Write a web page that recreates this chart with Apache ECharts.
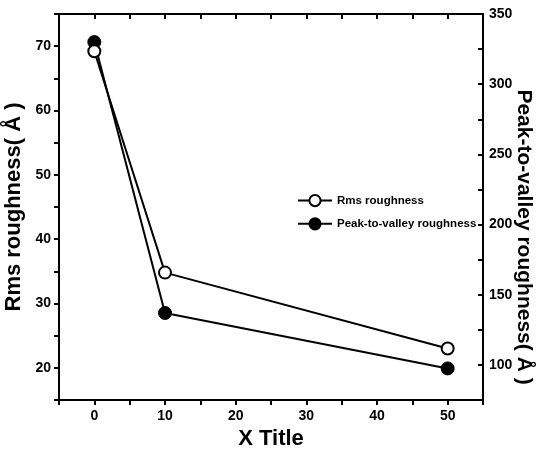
<!DOCTYPE html>
<html>
<head>
<meta charset="utf-8">
<script src="https://cdn.jsdelivr.net/npm/echarts@6/dist/echarts.min.js"></script>
<style>html,body{margin:0;padding:0;background:#fff}#c{width:537px;height:463px}</style>
</head>
<body>
<div id="c"></div>
<script>
const xValues = [0, 10, 50];
const rmsValues = [69.2, 34.8, 23.0];
const pvValues = [330, 137, 97.5];
const seriesNames = ['Rms roughness', 'Peak-to-valley roughness'];
const leftTitle = 'Rms roughness( Å )';
const rightTitle = 'Peak-to-valley roughness( Å )';
const xTitle = 'X Title';

const FONT = '"Liberation Sans Narrow", "Liberation Sans", Arial, sans-serif';
const chart = echarts.init(document.getElementById('c'));
const lineStyleAxis = { color: '#000', width: 2 };
chart.setOption({
  backgroundColor: '#fff',
  animation: false,
  grid: { left: 59, right: 54, top: 14, bottom: 63, containLabel: false, outerBoundsMode: 'none' },
  legend: {
    orient: 'vertical', left: 292, top: 189, itemWidth: 34, itemHeight: 14, itemGap: 10,
    textStyle: { fontFamily: FONT, fontSize: 11.5, color: '#000', fontWeight: 'bold' },
    data: seriesNames
  },
  xAxis: [{
    type: 'value', min: -5, max: 55, interval: 5, position: 'bottom',
    name: xTitle, nameLocation: 'middle', nameGap: 28, nameMoveOverlap: false,
    nameTextStyle: { fontFamily: FONT, fontSize: 22, fontWeight: 'bold', color: '#000' },
    axisLine: { show: true, onZero: false, lineStyle: lineStyleAxis },
    axisTick: { show: true, inside: false, length: 5, lineStyle: lineStyleAxis },
    axisLabel: { margin: 9, fontFamily: FONT, fontSize: 14, fontWeight: 'bold', color: '#000',
      formatter: v => (v % 10 === 0 ? String(v) : '') },
    splitLine: { show: false }
  }, {
    type: 'value', min: -5, max: 55, interval: 5, position: 'top',
    axisLine: { show: true, onZero: false, lineStyle: lineStyleAxis },
    axisTick: { show: true, inside: true, length: 5, lineStyle: lineStyleAxis },
    axisLabel: { show: false }, splitLine: { show: false }
  }],
  yAxis: [{
    type: 'value', min: 15, max: 75, interval: 5, position: 'left',
    name: leftTitle, nameLocation: 'middle', nameGap: 34, nameRotate: 90, nameMoveOverlap: false,
    nameTextStyle: { fontFamily: FONT, fontSize: 22, fontWeight: 'bold', color: '#000' },
    axisLine: { show: true, onZero: false, lineStyle: lineStyleAxis },
    axisTick: { show: true, inside: false, length: 5, lineStyle: lineStyleAxis },
    axisLabel: { margin: 8, fontFamily: FONT, fontSize: 14, fontWeight: 'bold', color: '#000',
      formatter: v => (v % 10 === 0 ? String(v) : '') },
    splitLine: { show: false }
  }, {
    type: 'value', min: 75, max: 350, interval: 25, position: 'right',
    name: rightTitle, nameLocation: 'middle', nameGap: 30, nameRotate: -90, nameMoveOverlap: false,
    nameTextStyle: { fontFamily: FONT, fontSize: 21, fontWeight: 'bold', color: '#000', padding: [0, 0, 0, 60] },
    axisLine: { show: true, onZero: false, lineStyle: lineStyleAxis },
    axisTick: { show: true, inside: true, length: 5, lineStyle: lineStyleAxis },
    axisLabel: { margin: 6, fontFamily: FONT, fontSize: 14, fontWeight: 'bold', color: '#000',
      formatter: v => (v % 50 === 0 ? String(v) : '') },
    splitLine: { show: false }
  }],
  series: [{
    name: seriesNames[0], type: 'line', xAxisIndex: 0, yAxisIndex: 0,
    data: xValues.map((x, i) => [x, rmsValues[i]]),
    symbol: 'circle', symbolSize: 12, z: 3,
    lineStyle: { color: '#000', width: 2 },
    itemStyle: { color: '#fff', borderColor: '#000', borderWidth: 2 }
  }, {
    name: seriesNames[1], type: 'line', xAxisIndex: 0, yAxisIndex: 1,
    data: xValues.map((x, i) => [x, pvValues[i]]),
    symbol: 'circle', symbolSize: 13, z: 2,
    lineStyle: { color: '#000', width: 2 },
    itemStyle: { color: '#000', borderColor: '#000', borderWidth: 1 }
  }]
});
</script>
</body>
</html>
